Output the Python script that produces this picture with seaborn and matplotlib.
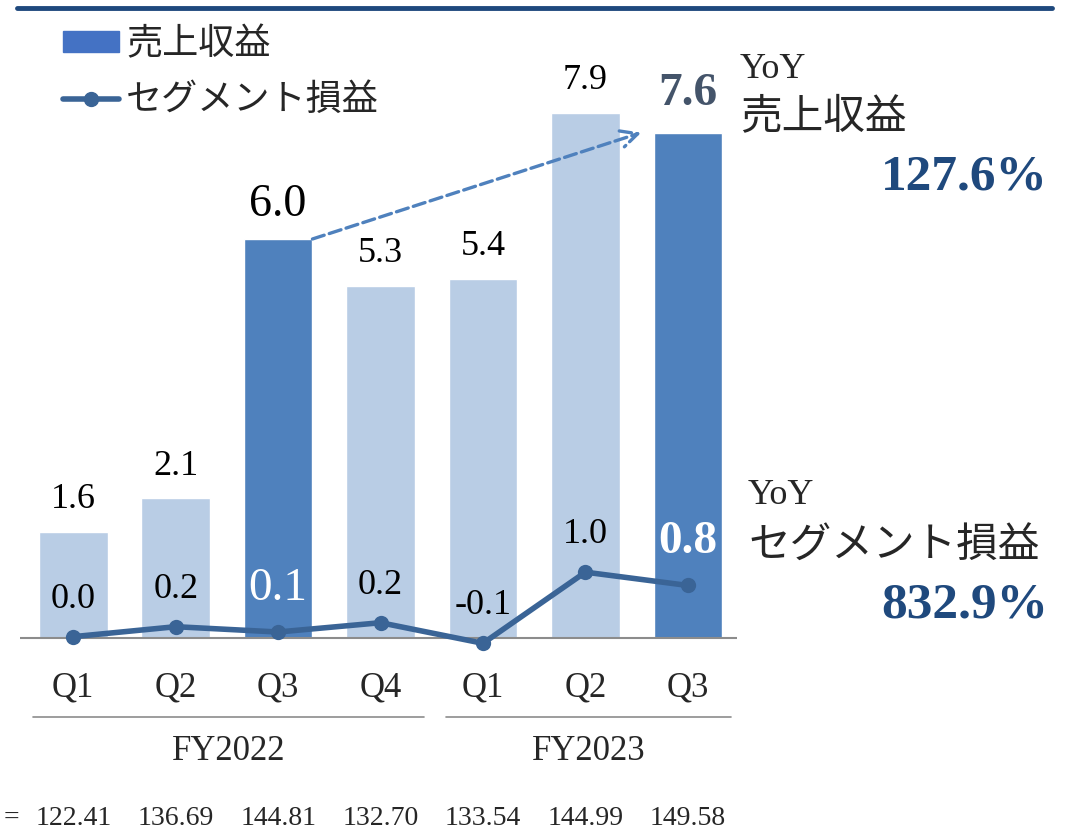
import numpy as np
import pandas as pd
import matplotlib.pyplot as plt
import seaborn as sns
from matplotlib.patches import Patch
from matplotlib.lines import Line2D

# data
periods = ['FY2022 Q1', 'FY2022 Q2', 'FY2022 Q3', 'FY2022 Q4',
           'FY2023 Q1', 'FY2023 Q2', 'FY2023 Q3']
quarters = ['Q1', 'Q2', 'Q3', 'Q4', 'Q1', 'Q2', 'Q3']
revenue = [1.6, 2.1, 6.0, 5.3, 5.4, 7.9, 7.6]
segment = [0.02, 0.17, 0.09, 0.23, -0.08, 0.99, 0.79]
highlight = [False, False, True, False, False, False, True]
fx_rates = ['122.41', '136.69', '144.81', '132.70', '133.54', '144.99', '149.58']
groups = ['FY2022', 'FY2023']
yoy_rev = '127.6%'
yoy_seg = '832.9%'

sns.set_theme(style='white')
plt.rcParams['font.family'] = ['Liberation Serif', 'Noto Sans CJK JP']

light = '#B9CDE5'
dark = '#4F81BD'
line_c = '#3A6496'
navy = '#1F497D'

W, H = 1078, 833
fig = plt.figure(figsize=(W / 100, H / 100), dpi=100)
# axes placed in pixel terms: x 20..737, y 40..660
ax = fig.add_axes([20 / W, 1 - 660 / H, (737 - 20) / W, (660 - 40) / H])

df = pd.DataFrame({'period': periods, 'revenue': revenue})
colors = [dark if h else light for h in highlight]
bw = 0.67
sns.barplot(data=df, x='period', y='revenue', hue='period', palette=colors,
            legend=False, width=bw, ax=ax, saturation=1)
x = np.arange(len(periods))
sns.lineplot(x=x, y=segment, color=line_c, lw=4, marker='o', markersize=11,
             markeredgewidth=0, ax=ax)

ax.set_xlim(-0.52, 6.48)
ax.set_ylim(-(660 - 638) / 66.5, (638 - 40) / 66.5)
ax.axhline(0, color='#8C8C8C', lw=1.5, zorder=1)
for s in ax.spines.values():
    s.set_visible(False)
ax.set_yticks([])
ax.set_xlabel('')
ax.set_ylabel('')
ax.set_xticks(x)
ax.set_xticklabels(quarters, fontsize=25)
ax.tick_params(axis='x', length=0, pad=8)

# bar labels
for i, v in enumerate(revenue):
    if i == 6:
        ax.annotate(f'{v:.1f}', (i, v), xytext=(0, 28), textcoords='offset points',
                    ha='center', va='center', fontsize=34, fontweight='bold', color='#44546A')
    elif i == 2:
        ax.annotate(f'{v:.1f}', (i, v), xytext=(0, 25), textcoords='offset points',
                    ha='center', va='center', fontsize=33, color='black')
    else:
        ax.annotate(f'{v:.1f}', (i, v), xytext=(0, 23), textcoords='offset points',
                    ha='center', va='center', fontsize=26, color='black')

# segment labels
for i, v in enumerate(segment):
    lab = f'{v:.1f}'
    if i == 2:
        ax.annotate(lab, (i, v), xytext=(0, 31), textcoords='offset points',
                    ha='center', va='center', fontsize=34, color='white')
    elif i == 6:
        ax.annotate(lab, (i, v), xytext=(0, 31), textcoords='offset points',
                    ha='center', va='center', fontsize=34, fontweight='bold', color='white')
    else:
        ax.annotate(lab, (i, v), xytext=(0, 27), textcoords='offset points',
                    ha='center', va='center', fontsize=26, color='black')

# dashed arrow between the highlighted bars
ax.annotate('', xy=(6 - bw / 2 - 0.12, revenue[6]), xytext=(2 + bw / 2, revenue[2]),
            arrowprops=dict(arrowstyle='->', color=dark, lw=2.4, linestyle='--',
                            mutation_scale=30, shrinkA=0, shrinkB=0))

# fiscal year grouping
tr = ax.get_xaxis_transform()
for g, (a, b) in zip(groups, [(-0.39, 3.42), (3.64, 6.42)]):
    ax.plot([a, b], [-0.092, -0.092], color='#8C8C8C', lw=1.2, transform=tr, clip_on=False)
    ax.text((a + b) / 2, -0.148, g, transform=tr, ha='center', va='center', fontsize=25)

# exchange rate row
fig.text(4 / W, 1 - 818 / H, '=', ha='left', va='center', fontsize=20)
for i, r in enumerate(fx_rates):
    ax.text(i, -0.255, r, transform=tr, ha='center', va='center', fontsize=20)

# top rule
fig.add_artist(Line2D([17 / W, 1052 / W], [1 - 8 / H, 1 - 8 / H], color=navy, lw=3.5))

# legend
handles = [Patch(color='#4472C4', label='売上収益'),
           Line2D([], [], color=line_c, lw=4, marker='o', markersize=10, label='セグメント損益')]
fig.legend(handles=handles, loc='upper left', bbox_to_anchor=(63 / W, 1 - 28 / H),
           frameon=False, fontsize=26, handlelength=1.55, handleheight=0.5,
           handletextpad=0.2, labelspacing=0.62, borderaxespad=0, borderpad=0)

# YoY annotations
def ftext(px, py, s, **kw):
    fig.text(px / W, 1 - py / H, s, va='center', **kw)

ftext(740, 70, 'YoY', ha='left', fontsize=26)
ftext(740, 118, '売上収益', ha='left', fontsize=30)
ftext(1048, 177, yoy_rev, ha='right', fontsize=37, fontweight='bold', color=navy)
ftext(748, 496, 'YoY', ha='left', fontsize=26)
ftext(748, 548, 'セグメント損益', ha='left', fontsize=30)
ftext(1048, 605, yoy_seg, ha='right', fontsize=37, fontweight='bold', color=navy)

fig.savefig('out.png', dpi=100)
